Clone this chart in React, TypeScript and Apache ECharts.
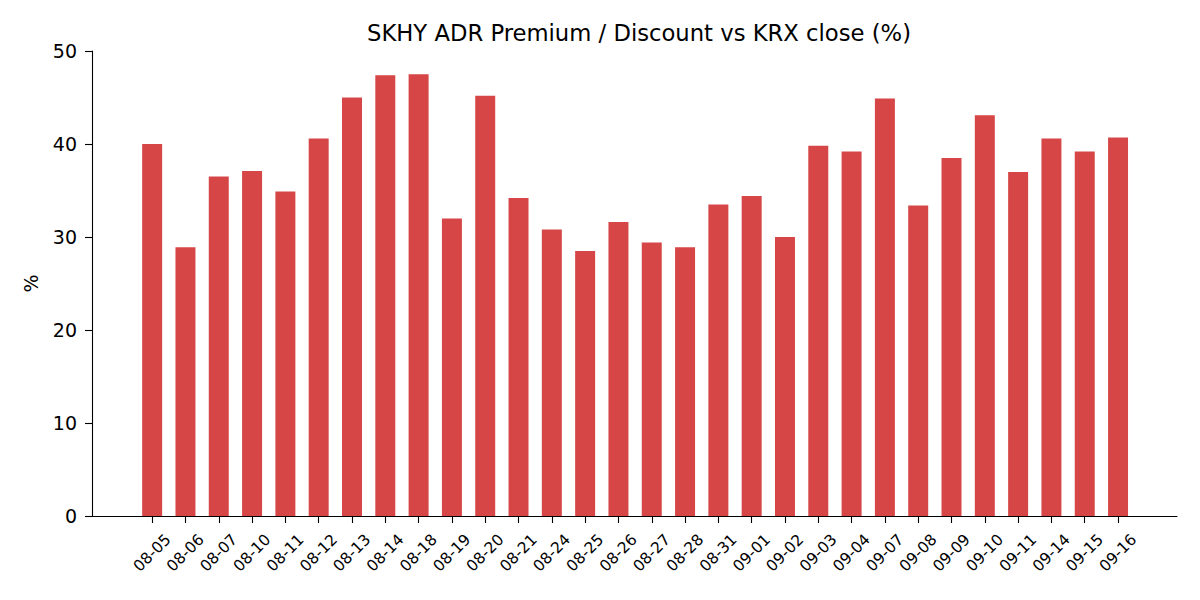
import { useEffect, useRef } from "react";
import * as echarts from "echarts";

const dates = [
    "08-05", "08-06", "08-07", "08-10", "08-11", "08-12", "08-13", "08-14", "08-18", "08-19",
    "08-20", "08-21", "08-24", "08-25", "08-26", "08-27", "08-28", "08-31", "09-01", "09-02",
    "09-03", "09-04", "09-07", "09-08", "09-09", "09-10", "09-11", "09-14", "09-15", "09-16",
];

const premium = [
    40.0, 28.9, 36.5, 37.1, 34.9, 40.6, 45.0, 47.4, 47.5, 32.0,
    45.2, 34.2, 30.8, 28.5, 31.6, 29.4, 28.9, 33.5, 34.4, 30.0,
    39.8, 39.2, 44.9, 33.4, 38.5, 43.1, 37.0, 40.6, 39.2, 40.7,
];

const yTicks = [0, 10, 20, 30, 40, 50];

const FONT = "'DejaVu Sans', sans-serif";
const INK = "#000";

const App = () => {
    const chartRef = useRef<HTMLDivElement>(null);

    useEffect(() => {
        if (!chartRef.current) return;
        const chart = echarts.init(chartRef.current, null, { renderer: "svg" });

        chart.setOption({
            animation: false,
            backgroundColor: "#fff",
            textStyle: { fontFamily: FONT, color: INK },
            title: {
                text: "SKHY ADR Premium / Discount vs KRX close (%)",
                left: 634,
                textAlign: "center",
                top: 16,
                textStyle: { fontFamily: FONT, fontSize: 22.7, fontWeight: "normal", color: INK },
            },
            grid: [
                // outer frame: spines + y axis
                { left: 92, right: 23, top: 51, bottom: 84 },
                // inner band for the bars (matplotlib-like side margins)
                { left: 135.5, right: 65.3, top: 51, bottom: 84 },
            ],
            xAxis: [
                {
                    gridIndex: 0,
                    type: "value",
                    min: 0,
                    max: 1,
                    axisLine: { show: true, onZero: false, lineStyle: { color: INK, width: 1.1 } },
                    axisTick: { show: false },
                    axisLabel: { show: false },
                    splitLine: { show: false },
                },
                {
                    gridIndex: 1,
                    type: "category",
                    data: dates,
                    axisLine: { show: false },
                    axisTick: {
                        show: true,
                        alignWithLabel: true,
                        length: 7,
                        lineStyle: { color: INK, width: 1.1 },
                    },
                    axisLabel: {
                        interval: 0,
                        rotate: 45,
                        align: "center",
                        verticalAlign: "middle",
                        margin: 37,
                        fontSize: 15.5,
                        fontFamily: FONT,
                        color: INK,
                    },
                    splitLine: { show: false },
                },
            ],
            yAxis: [
                {
                    gridIndex: 0,
                    type: "value",
                    min: yTicks[0],
                    max: yTicks[yTicks.length - 1],
                    interval: 10,
                    name: "%",
                    nameLocation: "middle",
                    nameGap: 52,
                    nameTextStyle: { fontFamily: FONT, fontSize: 19, color: INK },
                    axisLine: { show: true, lineStyle: { color: INK, width: 1.1 } },
                    axisTick: { show: true, length: 7, lineStyle: { color: INK, width: 1.1 } },
                    axisLabel: { fontSize: 19, margin: 15, fontFamily: FONT, color: INK },
                    splitLine: { show: false },
                },
                {
                    gridIndex: 1,
                    type: "value",
                    min: yTicks[0],
                    max: yTicks[yTicks.length - 1],
                    show: false,
                },
            ],
            series: [
                {
                    name: "Premium",
                    type: "bar",
                    xAxisIndex: 1,
                    yAxisIndex: 1,
                    data: premium,
                    barWidth: "60%",
                    itemStyle: { color: "#d64646" },
                },
            ],
        });

        return () => {
            chart.dispose();
        };
    }, []);

    return (
        <div
            ref={chartRef}
            style={{ position: "fixed", left: 0, top: 0, width: "1200px", height: "600px" }}
        />
    );
};

export default App;
